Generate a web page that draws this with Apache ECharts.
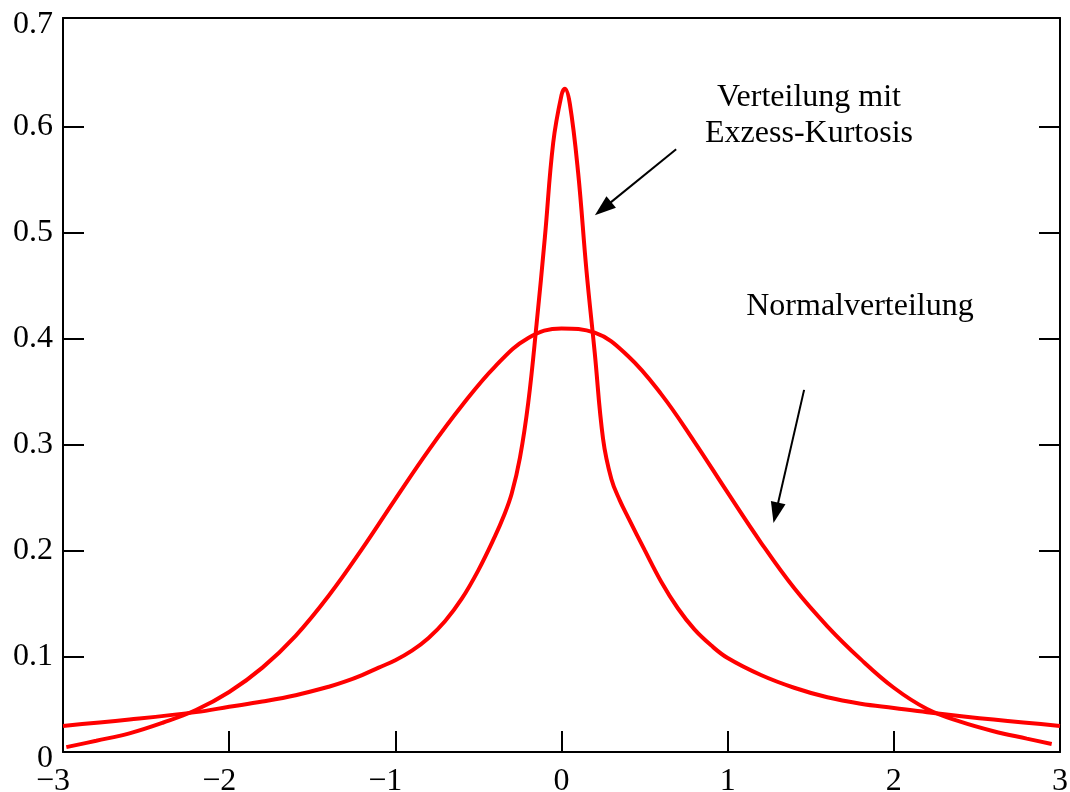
<!DOCTYPE html>
<html>
<head>
<meta charset="utf-8">
<script src="https://cdn.jsdelivr.net/npm/echarts@6/dist/echarts.min.js"></script>
<style>
html,body{margin:0;padding:0;background:#fff;}
#chart{width:1070px;height:792px;}
</style>
</head>
<body>
<div id="chart"></div>
<script>
// x ticks and y ticks
var xTicks = [-3, -2, -1, 0, 1, 2, 3];
var yTicks = [0, 0.1, 0.2, 0.3, 0.4, 0.5, 0.6, 0.7];

// Normalverteilung (wide curve)
var xNormal = [-2.98, -2.8, -2.6, -2.4, -2.2, -2.0, -1.8, -1.6, -1.4, -1.2, -1.0, -0.8, -0.6, -0.4, -0.2, 0.0, 0.2, 0.4, 0.6, 0.8, 1.0, 1.2, 1.4, 1.6, 1.8, 2.0, 2.2, 2.4, 2.6, 2.8, 2.95];
var yNormal = [0.015, 0.021, 0.028, 0.038, 0.050, 0.067, 0.090, 0.120, 0.158, 0.202, 0.249, 0.295, 0.337, 0.374, 0.401, 0.410, 0.406, 0.384, 0.348, 0.303, 0.255, 0.208, 0.165, 0.129, 0.098, 0.071, 0.051, 0.039, 0.030, 0.023, 0.018];

// Verteilung mit Exzess-Kurtosis (peaked curve)
var xKurt = [-3.0, -2.6, -2.2, -2.0, -1.8, -1.6, -1.4, -1.3, -1.2, -1.1, -1.0, -0.9, -0.8, -0.7, -0.6, -0.5, -0.4, -0.35, -0.3, -0.25, -0.2, -0.15, -0.1, -0.05, 0.0, 0.02, 0.05, 0.1, 0.15, 0.2, 0.25, 0.3, 0.35, 0.4, 0.5, 0.6, 0.7, 0.8, 0.9, 1.0, 1.2, 1.4, 1.6, 1.8, 2.0, 2.2, 2.6, 3.0];
var yKurt = [0.035, 0.041, 0.048, 0.053, 0.058, 0.064, 0.072, 0.077, 0.083, 0.090, 0.097, 0.106, 0.118, 0.134, 0.155, 0.182, 0.214, 0.232, 0.254, 0.288, 0.340, 0.414, 0.496, 0.585, 0.630, 0.636, 0.622, 0.557, 0.465, 0.387, 0.306, 0.268, 0.248, 0.232, 0.201, 0.171, 0.146, 0.126, 0.111, 0.099, 0.083, 0.071, 0.062, 0.056, 0.052, 0.048, 0.041, 0.035];

// annotation arrows (data coordinates): [startX, startY, endX, endY]
var arrowKurt = [0.690, 0.579, 0.250, 0.523];
var arrowNormal = [1.460, 0.352, 1.290, 0.236];

var yMin = 0.0104, yMax = 0.7028;

function pairs(xs, ys){ return xs.map(function(x,i){ return [x, ys[i]]; }); }

var FONT = "'Liberation Serif','Times New Roman','DejaVu Serif',serif";
var chart = echarts.init(document.getElementById('chart'), null, {renderer:'canvas'});

var yInner = yTicks.filter(function(v){ return v > 0.05 && v < 0.65; });
var yLabelVals = yTicks.map(function(v){ return Math.max(v, yMin); });

function fmtX(v){
  if (v < 0) return '{n|\u2212' + Math.abs(v) + '}';
  return '{p|' + v + '}';
}
function fmtY(v){
  if (v < 0.05) return '{z|0}';
  var s = (Math.round(v*10)/10).toFixed(1);
  if (v > 0.65) return '{t|' + s + '}';
  return '{p|' + s + '}';
}

var option = {
  animation: false,
  backgroundColor: '#fff',
  grid: {left: 63, right: 10, top: 18, bottom: 40, containLabel: false, outerBoundsMode: 'none'},
  xAxis: [{
    type: 'value', min: -3, max: 3, interval: 1, position: 'bottom',
    axisLine: {show: true, onZero: false, lineStyle: {color: '#000', width: 2}},
    axisTick: {show: true, inside: true, length: 21, lineStyle: {color: '#000', width: 2}},
    splitLine: {show: false},
    axisLabel: {
      show: true, margin: 14, color: '#000', fontFamily: FONT, fontSize: 32,
      customValues: xTicks,
      formatter: fmtX,
      rich: {
        n: {fontFamily: FONT, fontSize: 32, color: '#000', padding: [0, 20, 0, 0]},
        p: {fontFamily: FONT, fontSize: 32, color: '#000'}
      }
    }
  }, {
    type: 'value', min: -3, max: 3, interval: 1, position: 'top',
    axisLine: {show: true, onZero: false, lineStyle: {color: '#000', width: 2}},
    axisTick: {show: false}, axisLabel: {show: false}, splitLine: {show: false}
  }],
  yAxis: [{
    type: 'value', min: yMin, max: yMax, position: 'left',
    axisLine: {show: true, onZero: false, lineStyle: {color: '#000', width: 2}},
    axisTick: {show: true, inside: true, length: 21, customValues: yInner, lineStyle: {color: '#000', width: 2}},
    splitLine: {show: false},
    axisLabel: {
      show: true, margin: 10, color: '#000', fontFamily: FONT, fontSize: 32,
      customValues: yLabelVals,
      formatter: fmtY,
      rich: {
        z: {fontFamily: FONT, fontSize: 32, color: '#000', padding: [14, 0, 0, 0]},
        t: {fontFamily: FONT, fontSize: 32, color: '#000', padding: [8, 0, 0, 0]},
        p: {fontFamily: FONT, fontSize: 32, color: '#000'}
      }
    }
  }, {
    type: 'value', min: yMin, max: yMax, position: 'right',
    axisLine: {show: true, onZero: false, lineStyle: {color: '#000', width: 2}},
    axisTick: {show: true, inside: true, length: 21, customValues: yInner, lineStyle: {color: '#000', width: 2}},
    splitLine: {show: false}, axisLabel: {show: false}
  }],
  series: [{
    name: 'Normalverteilung', type: 'line', smooth: 0.4, showSymbol: false, symbol: 'none',
    xAxisIndex: 0, yAxisIndex: 0,
    data: pairs(xNormal, yNormal),
    lineStyle: {color: '#ff0000', width: 4}, itemStyle: {color: '#ff0000'},
    silent: true, clip: true
  }, {
    name: 'Verteilung mit Exzess-Kurtosis', type: 'line', smooth: 0.4, showSymbol: false, symbol: 'none',
    xAxisIndex: 0, yAxisIndex: 0,
    data: pairs(xKurt, yKurt),
    lineStyle: {color: '#ff0000', width: 4}, itemStyle: {color: '#ff0000'},
    silent: true, clip: true,
    markLine: {
      silent: true, animation: false,
      symbol: ['none', 'triangle'], symbolSize: [15, 21],
      label: {show: false},
      lineStyle: {color: '#000', width: 2, type: 'solid'},
      emphasis: {disabled: true},
      data: [
        [{coord: [arrowKurt[0], arrowKurt[1]]}, {coord: [arrowKurt[2], arrowKurt[3]]}],
        [{coord: [arrowNormal[0], arrowNormal[1]]}, {coord: [arrowNormal[2], arrowNormal[3]]}]
      ]
    }
  }],
  graphic: [
    {type: 'text', x: 809, y: 98, style: {text: 'Verteilung mit', font: '32px ' + FONT, fill: '#000', align: 'center', verticalAlign: 'middle'}},
    {type: 'text', x: 809, y: 134, style: {text: 'Exzess-Kurtosis', font: '32px ' + FONT, fill: '#000', align: 'center', verticalAlign: 'middle'}},
    {type: 'text', x: 860, y: 307, style: {text: 'Normalverteilung', font: '32px ' + FONT, fill: '#000', align: 'center', verticalAlign: 'middle'}}
  ]
};
chart.setOption(option);
</script>
</body>
</html>
